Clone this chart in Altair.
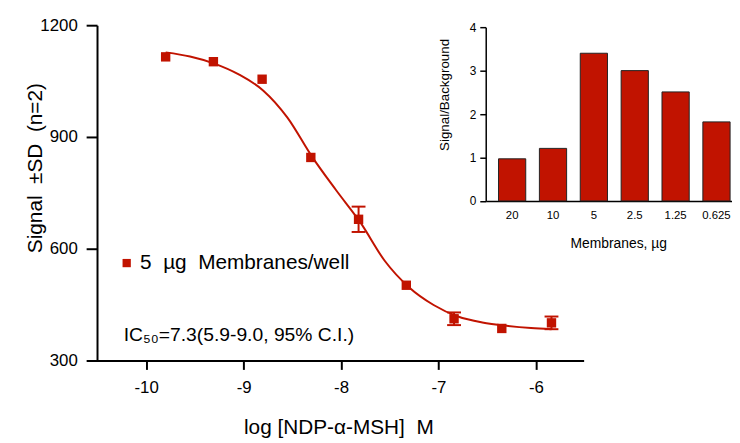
import altair as alt
import pandas as pd

# ---- data ----
log_conc = [-9.80, -9.31, -8.81, -8.31, -7.82, -7.33, -6.84, -6.35, -5.84]
signal = [1115, 1102, 1055, 845, 679, 502, 412, 386, 401]
signal_sd = [0, 0, 0, 0, 34, 0, 17, 0, 17]

fit_x = [-9.80, -9.55, -9.30, -9.05, -8.80, -8.55, -8.30, -8.05, -7.80,
         -7.55, -7.30, -7.05, -6.80, -6.55, -6.30, -6.05, -5.84]
fit_y = [1127, 1116, 1097, 1068, 1025, 952, 848, 757, 670,
         567, 496, 449, 418, 402, 393, 387, 384]

membranes = ["20", "10", "5", "2.5", "1.25", "0.625"]
sig_bg = [0.97, 1.21, 3.40, 3.00, 2.51, 1.82]

series_label = "5\u00a0\u00a0\u00b5g\u00a0\u00a0Membranes/well"
ic_label = "IC\u2085\u2080=7.3(5.9-9.0, 95% C.I.)"
x_ticks = [-10, -9, -8, -7, -6]
y_ticks = [300, 600, 900, 1200]
inset_ticks = [0, 1, 2, 3, 4]

RED = "#C11300"
FONT = "Liberation Sans, Arial, sans-serif"

pts = pd.DataFrame({"x": log_conc, "y": signal, "sd": signal_sd})
pts["series"] = series_label
pts["lo"] = pts["y"] - pts["sd"]
pts["hi"] = pts["y"] + pts["sd"]
fit = pd.DataFrame({"x": fit_x, "y": fit_y})
bars = pd.DataFrame({"m": membranes, "v": sig_bg})
ic_df = pd.DataFrame({"t": [ic_label]})

xs = alt.Scale(domain=[-10.606, -5.51], nice=False, zero=False)
ys = alt.Scale(domain=[300, 1200], nice=False, zero=False)

common = dict(grid=False, domainColor="black", tickColor="black",
              labelColor="black", titleColor="black", labelFont=FONT,
              titleFont=FONT, titleFontWeight="normal")

x_axis = alt.Axis(values=x_ticks, labelExpr="'-' + abs(datum.value)",
                  title="log [NDP-\u03b1-MSH]\u00a0 M", domainWidth=2, tickWidth=2,
                  tickSize=9, labelFontSize=17, labelPadding=10,
                  titleFontSize=21, titleY=74, titleX=254,
                  titleBaseline="alphabetic", **common)
y_axis = alt.Axis(values=y_ticks, format="d", title="Signal\u00a0 \u00b1SD\u00a0 (n=2)",
                  offset=-10, domainWidth=2, tickWidth=2, tickSize=11,
                  labelFontSize=17, labelPadding=9, titleFontSize=21,
                  titleX=-56, titleY=144, titleBaseline="alphabetic", **common)

X = alt.X("x:Q", scale=xs, axis=x_axis)

line = alt.Chart(fit).mark_line(color=RED, strokeWidth=2, interpolate="monotone").encode(
    x=X, y=alt.Y("y:Q", scale=ys, axis=y_axis))

err = alt.Chart(pts).transform_filter("datum.sd > 0").mark_rule(
    color=RED, strokeWidth=2, opacity=1).encode(
    x=X, y=alt.Y("lo:Q", scale=ys, axis=y_axis), y2="hi:Q")

cap_hi = alt.Chart(pts).transform_filter("datum.sd > 0").mark_tick(
    color=RED, thickness=2, size=14, orient="horizontal", opacity=1).encode(
    x=X, y=alt.Y("hi:Q", scale=ys, axis=y_axis))
cap_lo = alt.Chart(pts).transform_filter("datum.sd > 0").mark_tick(
    color=RED, thickness=2, size=14, orient="horizontal", opacity=1).encode(
    x=X, y=alt.Y("lo:Q", scale=ys, axis=y_axis))

points = alt.Chart(pts).mark_square(size=90, opacity=1, filled=True).encode(
    x=X, y=alt.Y("y:Q", scale=ys, axis=y_axis),
    color=alt.Color("series:N", scale=alt.Scale(range=[RED]),
                    legend=alt.Legend(title=None, orient="none", legendX=29.5,
                                      legendY=230, symbolType="square",
                                      symbolSize=70, symbolStrokeWidth=0,
                                      labelFont=FONT, labelFontSize=21,
                                      labelColor="black", labelOffset=3,
                                      labelLimit=0, padding=0)))

ic = alt.Chart(ic_df).mark_text(font=FONT, fontSize=19.5, align="left",
                                baseline="alphabetic", color="black").encode(
    text="t:N", x=alt.value(37), y=alt.value(319))

main = alt.layer(line, err, cap_hi, cap_lo, points, ic)

inset_common = dict(common)
inset = alt.Chart(bars).mark_bar(color=RED, stroke="#222222", strokeWidth=1).encode(
    x=alt.X("m:N", sort=membranes,
            scale=alt.Scale(range=[403, 652], paddingInner=0.334,
                            paddingOuter=0.18, align=0.87),
            axis=alt.Axis(orient="bottom", offset=-161.3, title="Membranes, \u00b5g",
                          ticks=False, labelAngle=0, labelPadding=9,
                          labelFontSize=11.5, titleFontSize=14, titleY=47,
                          titleX=537, titleBaseline="alphabetic",
                          domainWidth=1.5, **inset_common)),
    y=alt.Y("v:Q", scale=alt.Scale(domain=[0, 4], range=[177.7, 2], nice=False),
            axis=alt.Axis(orient="left", offset=-403, values=inset_ticks,
                          tickSize=6, tickWidth=1.5, domainWidth=1.5,
                          labelFontSize=12, labelPadding=4,
                          title="Signal/Background", titleFontSize=13.5,
                          titleX=-38, titleY=70, titleBaseline="alphabetic",
                          **inset_common)))

chart = alt.layer(main, inset).resolve_scale(
    x="independent", y="independent").properties(
    width=502, height=339,
    autosize=alt.AutoSizeParams(type="none"),
    padding={"left": 80, "top": 15, "right": 150, "bottom": 78},
).configure_view(stroke=None)

chart.save("out.html", embed_options={"renderer": "svg", "actions": False})
